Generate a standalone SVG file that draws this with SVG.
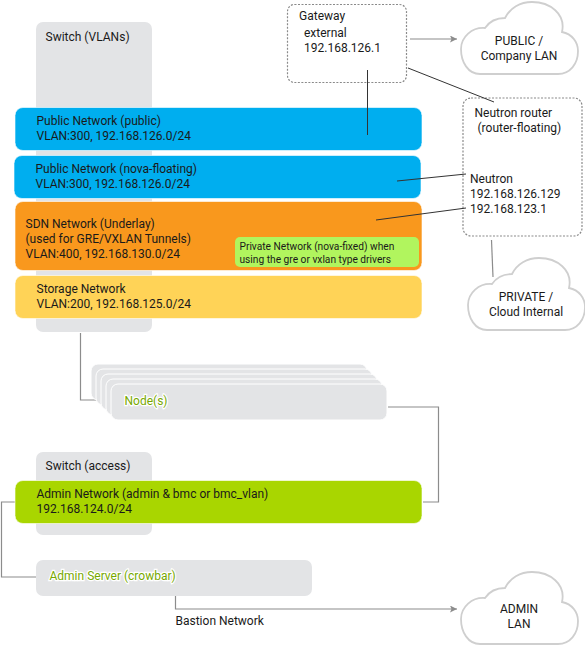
<svg xmlns="http://www.w3.org/2000/svg" width="585" height="646" viewBox="0 0 585 646">
<style>
text{font-family:Roboto,"Liberation Sans",sans-serif;font-size:12px;fill:#1a1a1a}
.sw{fill:#e3e4e6}
.stack{fill:#e3e4e6;stroke:#fff;stroke-width:1}
.net{stroke:#fff;stroke-opacity:.6;stroke-width:1}
.dash{fill:#fff;stroke:#8a8a8a;stroke-width:1.2;stroke-dasharray:2 1.5}
.cloud{fill:#fff;stroke:#cfcfcf;stroke-width:1.8}
.ln{fill:none;stroke:#8c8c8c;stroke-width:1.2}
.dk{fill:none;stroke:#333;stroke-width:1}
.gt{fill:#77a800;stroke:#fff;stroke-width:2.5;paint-order:stroke}
.c{text-anchor:middle}
</style>
<defs>
<marker id="arr" markerWidth="8" markerHeight="8" refX="7" refY="3.5" orient="auto" markerUnits="userSpaceOnUse"><path d="M0 0L7 3.5L0 7L1.5 3.5Z" fill="#8c8c8c"/></marker>
<path id="cl" d="M20 72C8 72 1 60 1 47C1 35 12 25 25 26C29 20 36 16 45 16C50 6 60 0 72 0C90 0 106 12 102 30C112 32 118 40 118 49C118 62 110 72 98 72Z"/>
</defs>
<g id="switch-vlans"><rect class="sw" x="36" y="22" width="116" height="310" rx="7"/><text x="45.500" y="41">Switch (VLANs)</text></g>
<g id="switch-access"><rect class="sw" x="36" y="452" width="116" height="83" rx="7"/><text x="45.500" y="470">Switch (access)</text></g>
<g id="connectors">
<path class="ln" d="M80.500 333V400H112"/>
<path class="ln" d="M388 407H438.500V502H423"/>
<path class="ln" d="M15 502H1.500V577H36"/>
<path class="ln" d="M175.500 595V609H457" marker-end="url(#arr)"/>
<path class="ln" d="M410 39H457" marker-end="url(#arr)"/>
<path class="ln" d="M491.500 240L493 277"/>
</g>
<g id="node-stack">
<rect class="stack" x="91" y="364" width="276" height="36" rx="7"/>
<rect class="stack" x="96" y="369" width="276" height="36" rx="7"/>
<rect class="stack" x="101" y="374" width="276" height="36" rx="7"/>
<rect class="stack" x="106" y="379" width="276" height="36" rx="7"/>
<rect class="stack" x="111" y="384" width="276" height="36" rx="7"/>
<text class="gt" x="124.500" y="405">Node(s)</text>
</g>
<g id="gateway"><rect class="dash" x="287.500" y="4.500" width="119" height="78" rx="7"/><text x="299" y="20">Gateway</text><text x="304" y="37">external</text><text x="304" y="52">192.168.126.1</text></g>
<g id="router"><rect class="dash" x="463" y="98" width="119" height="138" rx="8"/><text x="474.500" y="117">Neutron router</text><text x="477.500" y="132">(router-floating)</text><text x="470" y="183">Neutron</text><text x="470" y="198">192.168.126.129</text><text x="470" y="213">192.168.123.1</text></g>
<g id="public-network"><rect class="net" x="15" y="107.500" width="407" height="43" rx="8" fill="#00aeef"/><text x="36.500" y="124.500">Public Network (public)</text><text x="36.500" y="139.500">VLAN:300, 192.168.126.0/24</text></g>
<g id="nova-floating"><rect class="net" x="14" y="155.500" width="407" height="43" rx="8" fill="#00aeef"/><text x="35.500" y="172.500">Public Network (nova-floating)</text><text x="35.500" y="187.500">VLAN:300, 192.168.126.0/24</text></g>
<g id="sdn-network"><rect class="net" x="15" y="201.500" width="407" height="69" rx="8" fill="#f9981d"/><text x="25.500" y="227.500">SDN Network (Underlay)</text><text x="25.500" y="242.500">(used for GRE/VXLAN Tunnels)</text><text x="25.500" y="257.500">VLAN:400, 192.168.130.0/24</text></g>
<g id="nova-fixed"><rect x="235" y="237" width="184" height="30" rx="5" fill="#b1f55e"/><text x="239.500" y="250" style="font-size:10.200px">Private Network (nova-fixed) when</text><text x="239.500" y="262.500" style="font-size:10.200px">using the gre or vxlan type drivers</text></g>
<g id="storage-network"><rect class="net" x="15" y="275.500" width="407" height="43" rx="8" fill="#ffd357"/><text x="36.500" y="292.500">Storage Network</text><text x="36.500" y="307.500">VLAN:200, 192.168.125.0/24</text></g>
<g id="admin-network"><rect class="net" x="15" y="480.500" width="407" height="43" rx="8" fill="#a9d600"/><text x="36.500" y="497.500">Admin Network (admin &amp; bmc or bmc_vlan)</text><text x="36.500" y="512.500">192.168.124.0/24</text></g>
<g id="admin-server"><rect class="sw" x="36" y="560" width="276" height="36" rx="7"/><text class="gt" x="49.500" y="580">Admin Server (crowbar)</text></g>
<g id="overlay-lines">
<path class="dk" d="M367.500 70V135"/>
<path class="dk" d="M408 68L494 102"/>
<path class="dk" d="M397 181L466 174"/>
<path class="dk" d="M376 220L466 208"/>
</g>
<text x="175.500" y="625">Bastion Network</text>
<g id="cloud-public"><use href="#cl" class="cloud" x="460" y="2"/><text class="c" x="519" y="45">PUBLIC /</text><text class="c" x="519" y="60">Company LAN</text></g>
<g id="cloud-private"><use href="#cl" class="cloud" x="467" y="258"/><text class="c" x="526" y="301">PRIVATE /</text><text class="c" x="526" y="316">Cloud Internal</text></g>
<g id="cloud-admin"><use href="#cl" class="cloud" x="460" y="572"/><text class="c" x="519" y="613">ADMIN</text><text class="c" x="519" y="628">LAN</text></g>
</svg>
